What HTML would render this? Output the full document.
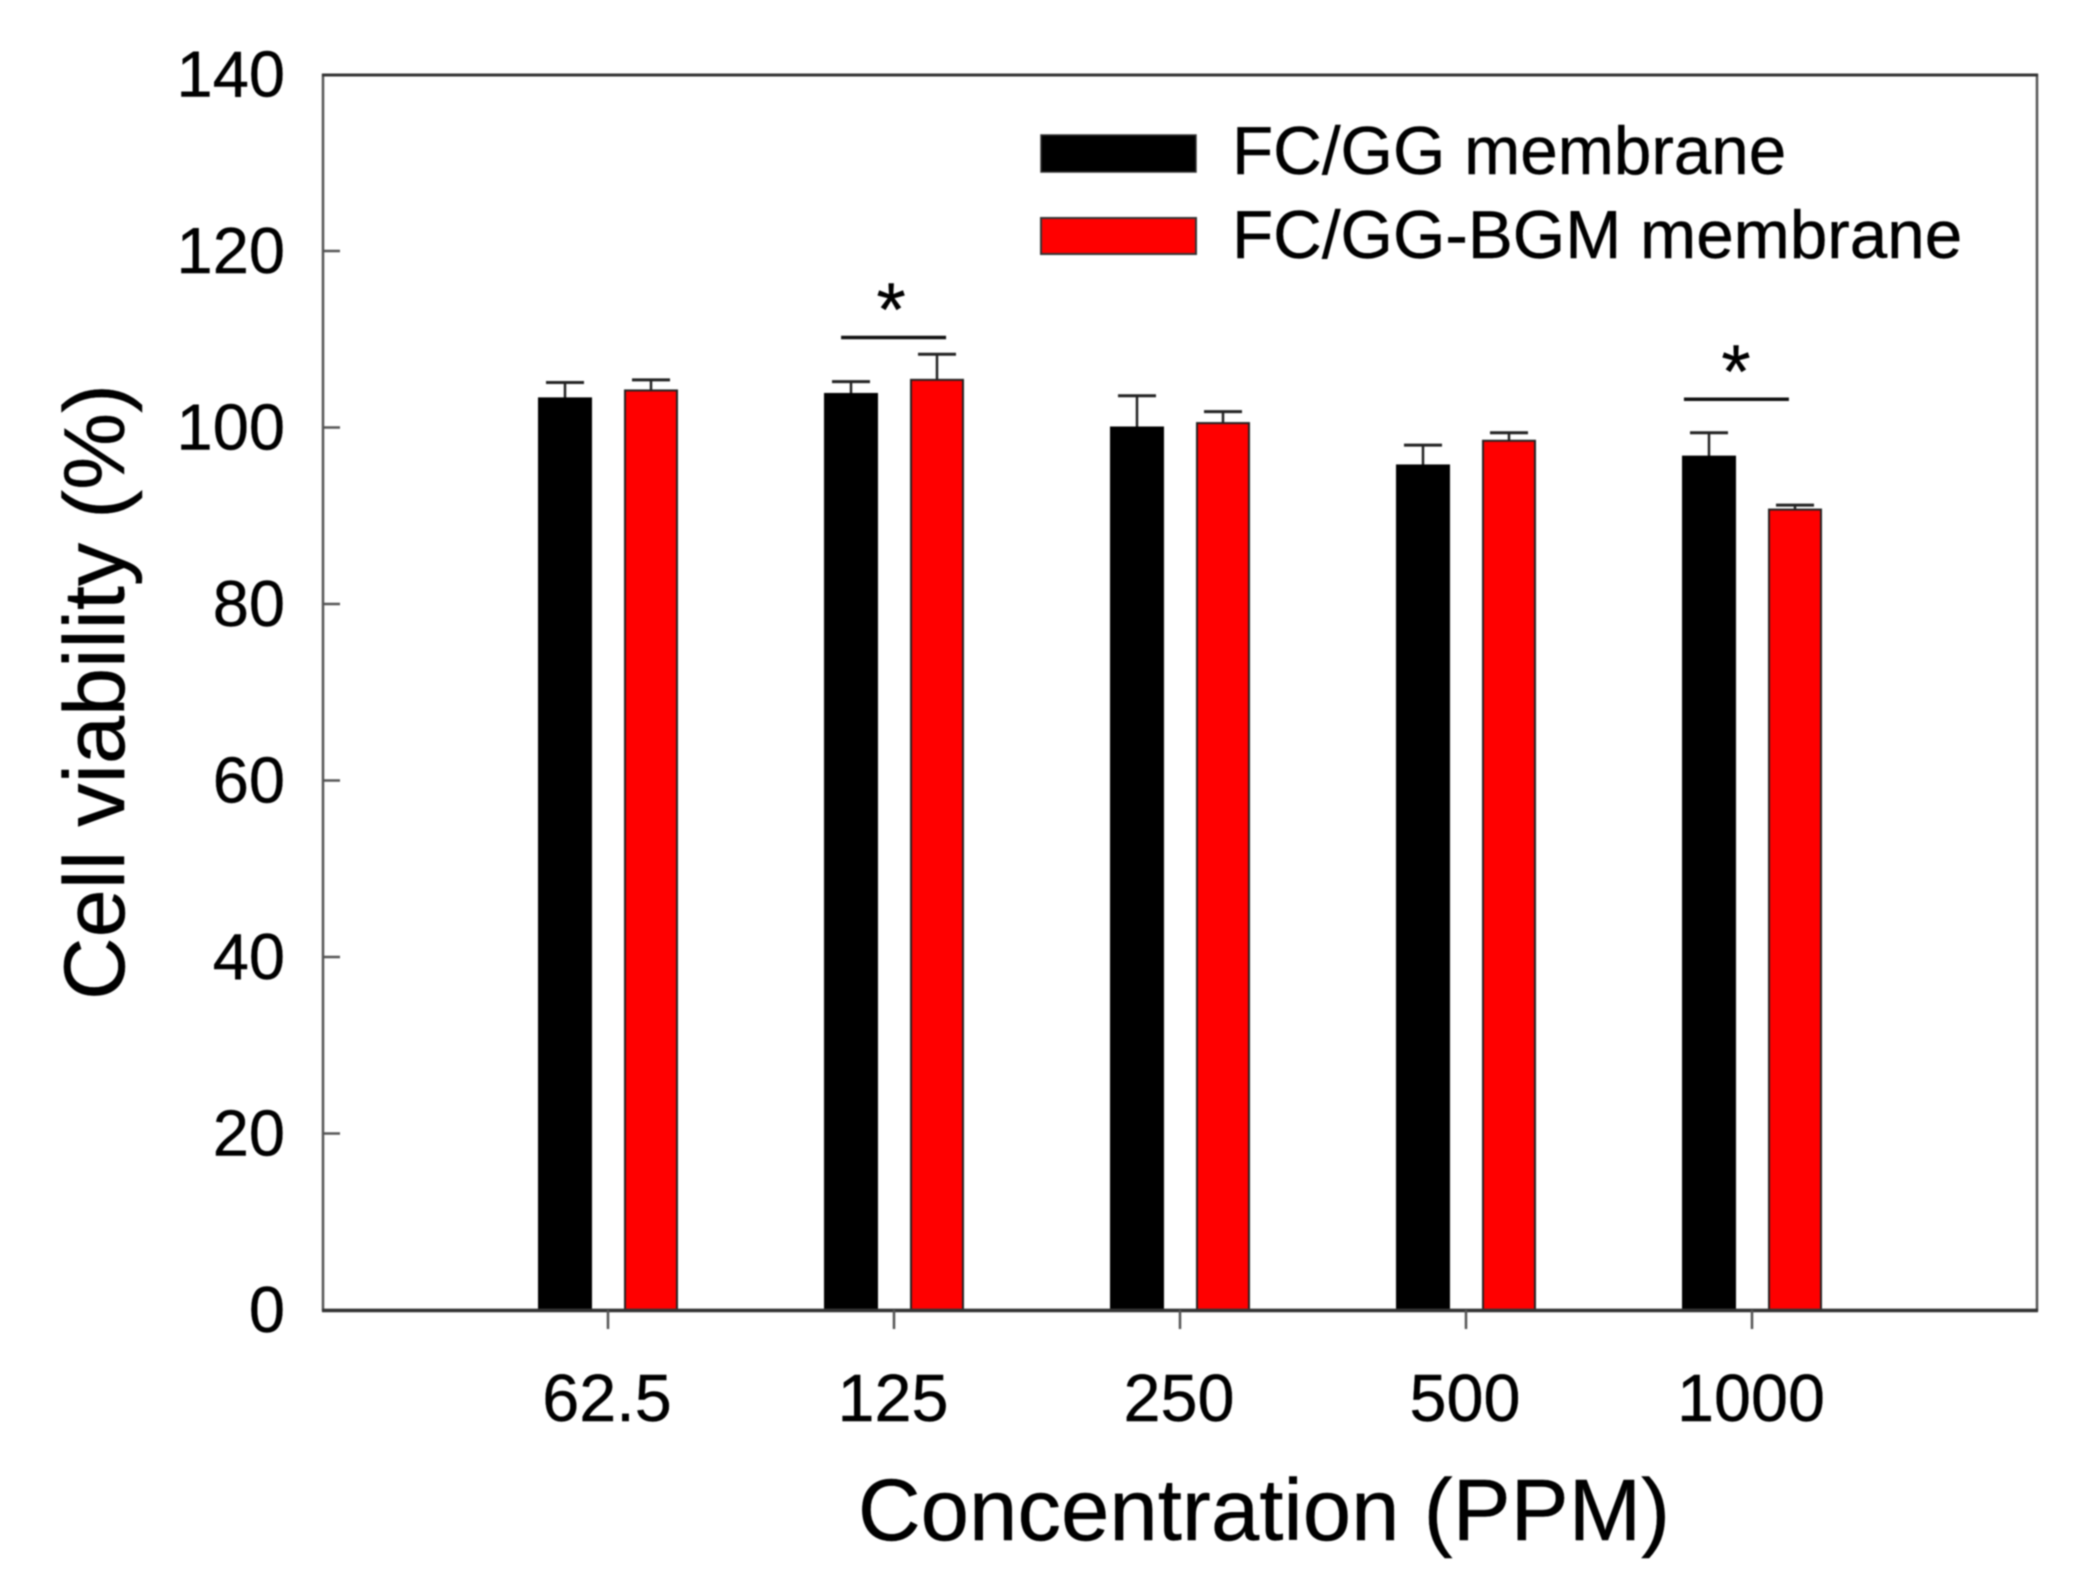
<!DOCTYPE html>
<html>
<head>
<meta charset="utf-8">
<title>Cell viability chart</title>
<style>
html,body{margin:0;padding:0;background:#fff;}
svg{display:block;filter:blur(0.7px);}
text{font-family:"Liberation Sans",sans-serif;fill:#000;stroke:#000;stroke-width:0.4px;}
</style>
</head>
<body>
<svg id="chart" width="2095" height="1582" viewBox="0 0 2095 1582" xmlns="http://www.w3.org/2000/svg">
  <rect x="0" y="0" width="2095" height="1582" fill="#fff"/>
  <g id="bars"></g>
  <rect x="323" y="75" width="1714" height="1235" fill="none" stroke="#555" stroke-width="2.5"/>
  <line x1="322" y1="1310.5" x2="2038" y2="1310.5" stroke="#333" stroke-width="3.5"/>
  <line x1="322" y1="75" x2="2038" y2="75" stroke="#333" stroke-width="3"/>
  <g id="axes"></g>
  <g id="annotations"></g>
  <g id="legend">
    <g>
      <rect x="1041" y="135" width="155" height="37" fill="#000" stroke="#333" stroke-width="1.5"/>
      <text x="1232" y="174" font-size="67.4">FC/GG membrane</text>
    </g>
    <g>
      <rect x="1041" y="218" width="155" height="36" fill="#f00" stroke="#333" stroke-width="2"/>
      <text x="1232" y="258" font-size="67.4">FC/GG-BGM membrane</text>
    </g>
  </g>
  <text x="1264" y="1540" font-size="87" text-anchor="middle">Concentration (PPM)</text>
  <text transform="translate(124,692) rotate(-90)" font-size="86.6" text-anchor="middle">Cell viability (%)</text>
</svg>
<script>
var categories = ["62.5", "125", "250", "500", "1000"];
var fcGgValues = [103.3, 103.8, 100.0, 95.7, 96.7];
var fcGgUpper = [105.1, 105.2, 103.6, 98.0, 99.4];
var bgmValues = [104.2, 105.4, 100.5, 98.5, 90.7];
var bgmUpper = [105.4, 108.3, 101.8, 99.4, 91.2];
var yTickLabels = [0, 20, 40, 60, 80, 100, 120, 140];
var sigLevels = [110.2, 103.2];
var sigStart = [0.815, 3.762];
var sigEnd = [1.182, 4.129];
var sigStarAt = [0.99, 3.944];

var NS = "http://www.w3.org/2000/svg";
function yScale(v) { return 1310 - v * 8.825; }
function xScale(c) { return 608 + 286 * c; }
function make(tag, attrs, parent) {
  var el = document.createElementNS(NS, tag);
  for (var k in attrs) { el.setAttribute(k, attrs[k]); }
  parent.appendChild(el);
  return el;
}
var barsG = document.getElementById("bars");
var axesG = document.getElementById("axes");
var annG = document.getElementById("annotations");
var BAR_W = 52, OFFSET = 43, CAP = 38;

function drawBar(i, value, upper, sign, fill, stroke, key) {
  var cx = xScale(i) + sign * OFFSET;
  var top = yScale(value), base = yScale(0);
  var whisker = make("line", {x1: cx, x2: cx, y1: yScale(upper), y2: top, stroke: "#222", "stroke-width": 2.5}, barsG);
  
  
  var cap = make("line", {x1: cx - CAP / 2, x2: cx + CAP / 2, y1: yScale(upper), y2: yScale(upper), stroke: "#222", "stroke-width": 3}, barsG);
  
  
  var bar = make("rect", {x: cx - BAR_W / 2, y: top, width: BAR_W, height: base - top, fill: fill, stroke: stroke, "stroke-width": 2}, barsG);
  
  
}
categories.forEach(function (c, i) {
  drawBar(i, fcGgValues[i], fcGgUpper[i], -1, "#000", "#000", "fc-gg-" + c);
  drawBar(i, bgmValues[i], bgmUpper[i], 1, "#f00", "#222", "fc-gg-bgm-" + c);

  var tick = make("line", {x1: xScale(i), x2: xScale(i), y1: 1310, y2: 1329, stroke: "#555", "stroke-width": 2.5}, axesG);
  
  
  var label = make("text", {x: xScale(i) - 1, y: 1421, "font-size": 66.5, "text-anchor": "middle"}, axesG);
  
  
  label.textContent = c;
});
yTickLabels.forEach(function (t) {
  if (t > 0 && t < 140) {
    var tick = make("line", {x1: 323, x2: 340, y1: yScale(t), y2: yScale(t), stroke: "#555", "stroke-width": 2.5}, axesG);
    
    
  }
  var label = make("text", {x: 285, y: yScale(t) + 22, "font-size": 65, "text-anchor": "end"}, axesG);
  
  
  label.textContent = t;
});
sigLevels.forEach(function (lvl, i) {
  var line = make("line", {x1: xScale(sigStart[i]), x2: xScale(sigEnd[i]), y1: yScale(lvl), y2: yScale(lvl), stroke: "#111", "stroke-width": 3.5}, annG);
  
  
  var star = make("text", {x: xScale(sigStarAt[i]), y: yScale(lvl) - 2, "font-size": 75, "text-anchor": "middle"}, annG);
  
  
  star.textContent = "*";
});
</script>
</body>
</html>
